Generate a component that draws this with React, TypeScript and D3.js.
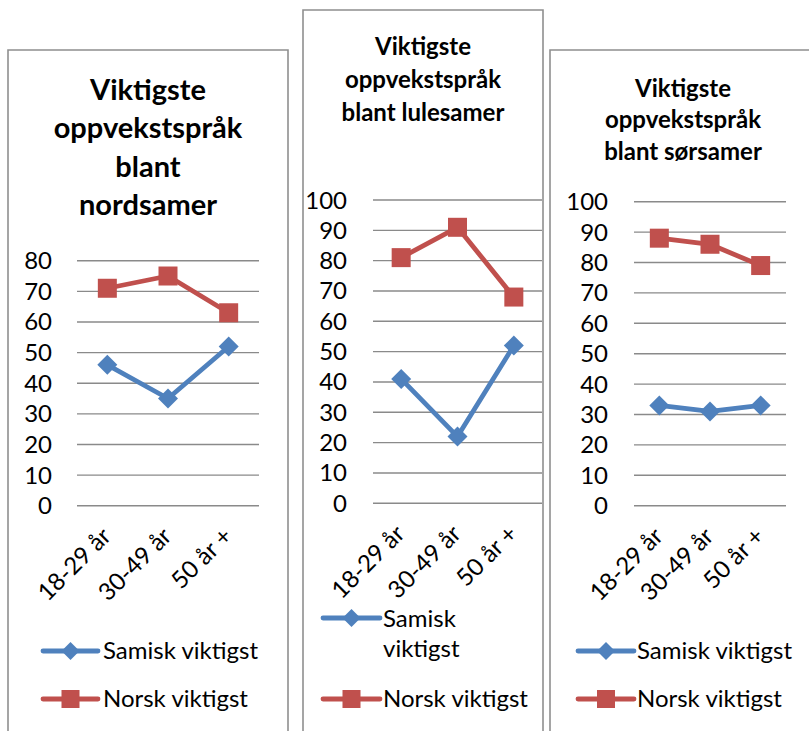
import React from "react";
import * as d3 from "d3";

const categories = ["18-29 år", "30-49 år", "50 år +"];
const seriesNames = ["Samisk viktigst", "Norsk viktigst"];

const nordTitle = ["Viktigste", "oppvekstspråk", "blant", "nordsamer"];
const nordSamisk = [46, 35, 52];
const nordNorsk = [71, 75, 63];
const nordTicks = [0, 10, 20, 30, 40, 50, 60, 70, 80];

const luleTitle = ["Viktigste", "oppvekstspråk", "blant lulesamer"];
const luleSamisk = [41, 22, 52];
const luleNorsk = [81, 91, 68];
const luleTicks = [0, 10, 20, 30, 40, 50, 60, 70, 80, 90, 100];

const sorTitle = ["Viktigste", "oppvekstspråk", "blant sørsamer"];
const sorSamisk = [33, 31, 33];
const sorNorsk = [88, 86, 79];
const sorTicks = [0, 10, 20, 30, 40, 50, 60, 70, 80, 90, 100];

const BLUE = "#4F81BD";
const RED = "#C0504D";
const GRID = "#8a8a8a";
const FONT = "Lato, 'Open Sans', sans-serif";

type Layout = {
  bx0: number; bx1: number; by0: number;
  px0: number; px1: number; yTop: number; y0: number;
  tickRight: number;
  titleX: number; titleBase: number[]; titleSize: number;
  legX0: number; legX1: number; legTextX: number;
  legSamiskY: number; legNorskY: number;
  legSamiskLines: string[]; legSamiskBase: number[]; legNorskBase: number;
};

function Diamond({ x, y, r }: { x: number; y: number; r: number }) {
  return <path d={`M${x},${y - r}L${x + r},${y}L${x},${y + r}L${x - r},${y}Z`} fill={BLUE} />;
}
function Square({ x, y, s }: { x: number; y: number; s: number }) {
  return <rect x={x - s / 2} y={y - s / 2} width={s} height={s} fill={RED} />;
}

function Panel({ L, title, samisk, norsk, ticks }: { L: Layout; title: string[]; samisk: number[]; norsk: number[]; ticks: number[] }) {
  const yMax = ticks[ticks.length - 1];
  const y = d3.scaleLinear().domain([0, yMax]).range([L.y0, L.yTop]);
  const x = d3.scaleBand<string>().domain(categories).range([L.px0, L.px1]);
  const cx = (c: string) => (x(c) as number) + x.bandwidth() / 2;
  const line = d3.line<number>().x((_, i) => cx(categories[i])).y((d) => y(d));
  const fs = 24;
  return (
    <g fontFamily={FONT}>
      <path
        d={`M${L.bx0},740V${L.by0}H${L.bx1}V740`}
        fill="#fff"
        stroke="#8f8f8f"
        strokeWidth={1.6}
      />
      {title.map((t, i) => (
        <text key={i} x={L.titleX} y={L.titleBase[i]} textAnchor="middle" fontWeight="bold" fontSize={L.titleSize} fill="#000">
          {t}
        </text>
      ))}
      {ticks.map((t) => (
        <g key={t}>
          <line x1={L.px0} x2={L.px1} y1={y(t)} y2={y(t)} stroke={GRID} strokeWidth={1.4} />
          <text x={L.tickRight} y={y(t) + 8.5} textAnchor="end" fontSize={fs} fill="#000">
            {t}
          </text>
        </g>
      ))}
      {categories.map((c) => (
        <text key={c} transform={`translate(${cx(c) + 5},${L.y0 + 32}) rotate(-45)`} textAnchor="end" fontSize={fs} fill="#000">
          {c}
        </text>
      ))}
      <path d={line(samisk) as string} fill="none" stroke={BLUE} strokeWidth={4.8} strokeLinejoin="round" />
      <path d={line(norsk) as string} fill="none" stroke={RED} strokeWidth={4.8} strokeLinejoin="round" />
      {samisk.map((v, i) => (
        <Diamond key={i} x={cx(categories[i])} y={y(v)} r={10} />
      ))}
      {norsk.map((v, i) => (
        <Square key={i} x={cx(categories[i])} y={y(v)} s={19} />
      ))}
      <line x1={L.legX0} x2={L.legX1} y1={L.legSamiskY} y2={L.legSamiskY} stroke={BLUE} strokeWidth={4.8} strokeLinecap="round" />
      <Diamond x={(L.legX0 + L.legX1) / 2} y={L.legSamiskY} r={9} />
      {L.legSamiskLines.map((t, i) => (
        <text key={i} x={L.legTextX} y={L.legSamiskBase[i]} fontSize={fs} fill="#000">
          {t}
        </text>
      ))}
      <line x1={L.legX0} x2={L.legX1} y1={L.legNorskY} y2={L.legNorskY} stroke={RED} strokeWidth={4.8} strokeLinecap="round" />
      <Square x={(L.legX0 + L.legX1) / 2} y={L.legNorskY} s={18} />
      <text x={L.legTextX} y={L.legNorskBase} fontSize={fs} fill="#000">
        {seriesNames[1]}
      </text>
    </g>
  );
}

const L1: Layout = {
  bx0: 8, bx1: 288, by0: 50,
  px0: 77, px1: 259, yTop: 260.7, y0: 505.7,
  tickRight: 52,
  titleX: 148, titleBase: [100, 138, 177, 215], titleSize: 29,
  legX0: 43, legX1: 98, legTextX: 103,
  legSamiskY: 651, legNorskY: 699,
  legSamiskLines: [seriesNames[0]], legSamiskBase: [659], legNorskBase: 707,
};
const L2: Layout = {
  bx0: 303, bx1: 543, by0: 10,
  px0: 373, px1: 542, yTop: 200, y0: 503.3,
  tickRight: 347,
  titleX: 423, titleBase: [55, 88, 121], titleSize: 24,
  legX0: 323, legX1: 380, legTextX: 383,
  legSamiskY: 618, legNorskY: 699,
  legSamiskLines: ["Samisk", "viktigst"], legSamiskBase: [627, 657], legNorskBase: 707,
};
const L3: Layout = {
  bx0: 550, bx1: 830, by0: 50,
  px0: 634, px1: 786, yTop: 201.7, y0: 505.7,
  tickRight: 608,
  titleX: 683, titleBase: [97, 128, 160], titleSize: 24,
  legX0: 578, legX1: 634, legTextX: 637,
  legSamiskY: 651, legNorskY: 699,
  legSamiskLines: [seriesNames[0]], legSamiskBase: [659], legNorskBase: 707,
};

export default function App() {
  return (
    <svg width={809} height={731} style={{ position: "absolute", left: 0, top: 0, background: "#fff" }}>
      <rect width={809} height={731} fill="#fff" />
      <Panel L={L1} title={nordTitle} samisk={nordSamisk} norsk={nordNorsk} ticks={nordTicks} />
      <Panel L={L2} title={luleTitle} samisk={luleSamisk} norsk={luleNorsk} ticks={luleTicks} />
      <Panel L={L3} title={sorTitle} samisk={sorSamisk} norsk={sorNorsk} ticks={sorTicks} />
    </svg>
  );
}
